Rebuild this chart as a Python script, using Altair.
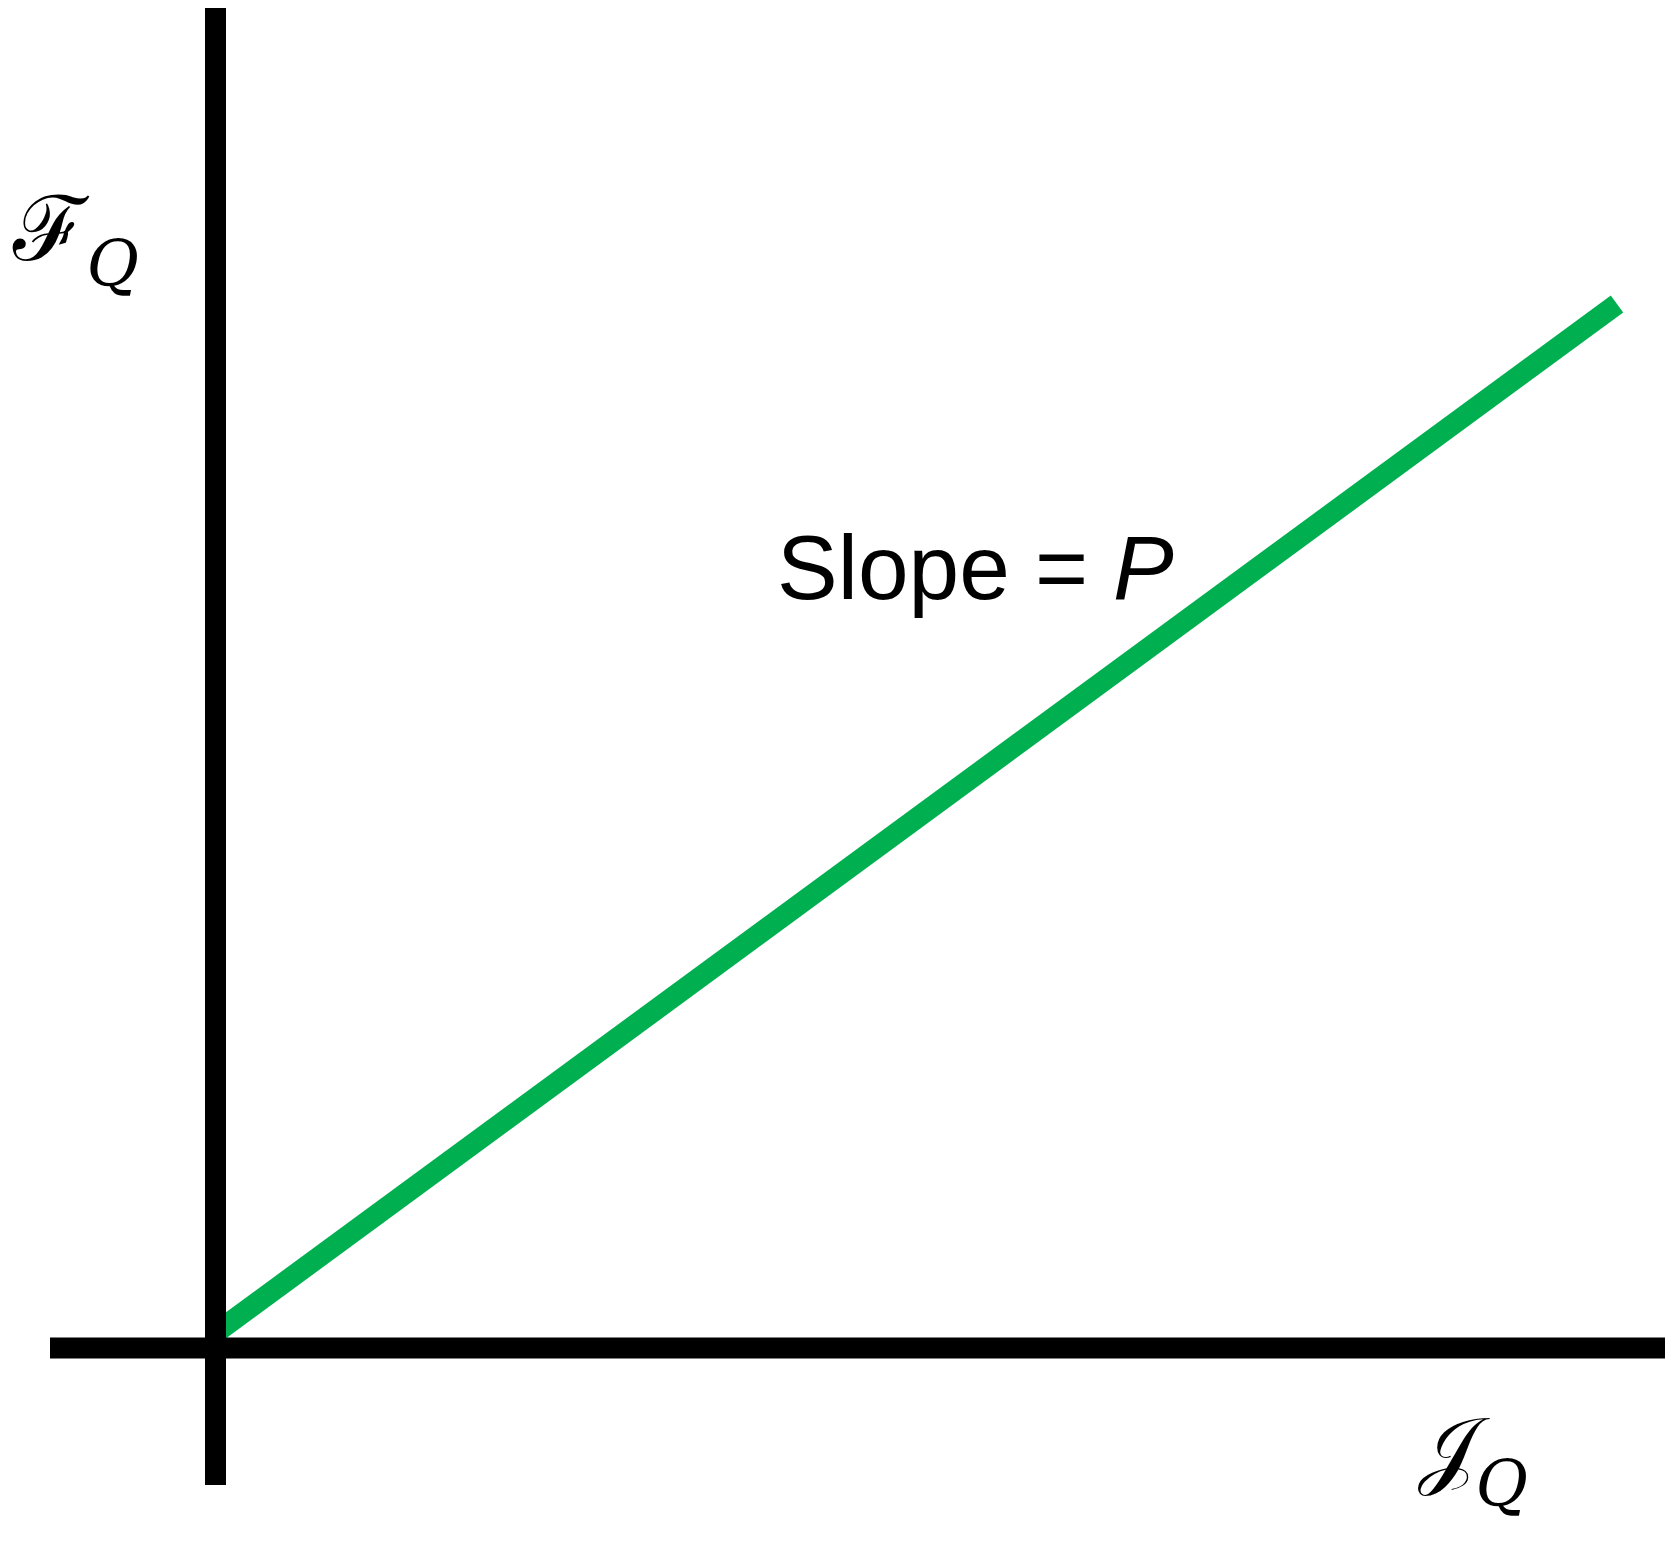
import altair as alt
import pandas as pd

# Axis segments (data units, origin at the crossing)
seg_name = ["horizontal", "vertical"]
seg_x1 = [-1.655, 0.0]
seg_x2 = [14.495, 0.0]
seg_y1 = [0.0, -1.37]
seg_y2 = [0.0, 13.4]

# Green line (slope = P)
line_x = [0.0, 14.015]
line_y = [0.15, 10.44]

# Labels
label_slope = "Slope ="
label_p = "P"
label_f = "ℱ"
label_j = "𝒥"
label_sub = "Q"

W, H = 1657, 1530
xs = alt.Scale(domain=[-2.075, 14.495], nice=False, zero=False)
ys = alt.Scale(domain=[-1.9, 13.4], nice=False, zero=False)

segs = pd.DataFrame({"name": seg_name, "x1": seg_x1, "x2": seg_x2, "y1": seg_y1, "y2": seg_y2})
line_df = pd.DataFrame({"x": line_x, "y": line_y})

green = alt.Chart(line_df).mark_line(color="#00B050", strokeWidth=21, strokeCap="butt").encode(
    x=alt.X("x:Q", scale=xs, axis=None),
    y=alt.Y("y:Q", scale=ys, axis=None),
)

axes = alt.Chart(segs).mark_rule(color="black", strokeWidth=21, strokeCap="butt").encode(
    x=alt.X("x1:Q", scale=xs, axis=None),
    x2="x2:Q",
    y=alt.Y("y1:Q", scale=ys, axis=None),
    y2="y2:Q",
)

def txt(s, x, y, font, size, style="normal", align="left"):
    return alt.Chart().mark_text(
        text=s, font=font, fontSize=size, fontStyle=style, align=align,
        baseline="alphabetic", color="black",
    ).encode(x=alt.datum(x), y=alt.datum(y))

t_slope = txt(label_slope, 5.615, 7.49, "Liberation Sans", 91)
t_p = txt(label_p, 8.975, 7.49, "Liberation Sans", 91, "italic")
t_f = txt(label_f, -1.655, 10.88, "DejaVu Serif", 90, align="center")
t_fq = txt(label_sub, -1.29, 10.62, "DejaVu Serif", 64, "italic")
t_j = txt(label_j, 12.32, -1.3, "DejaVu Serif", 86, align="center")
t_jq = txt(label_sub, 12.6, -1.58, "DejaVu Serif", 64, "italic")

chart = alt.layer(green, axes, t_slope, t_p, t_f, t_fq, t_j, t_jq).properties(
    width=W, height=H, padding=0, autosize="none", background="white"
).configure_view(stroke=None)

chart.save("out.html", embed_options={"renderer": "svg", "actions": False})
